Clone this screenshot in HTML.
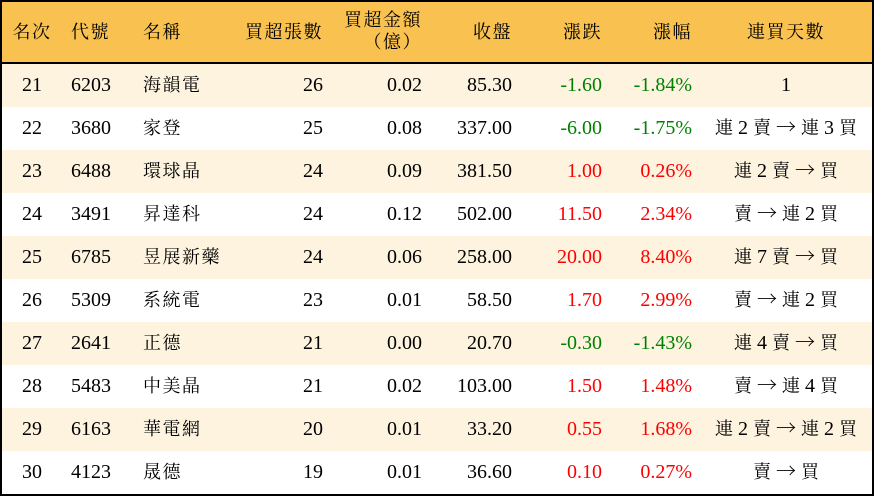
<!DOCTYPE html>
<html><head><meta charset="utf-8"><style>
html,body{margin:0;padding:0;background:#fff;}
#w{position:relative;width:874px;height:496px;overflow:hidden;background:#fff;font-family:"Liberation Serif","Noto Serif CJK SC",serif;font-size:20px;color:#000;}
.j{font-family:"Noto Serif CJK SC",serif;font-size:18px;letter-spacing:1.5px;line-height:1;}
.jn{font-family:"Noto Serif CJK SC",serif;font-size:18px;line-height:1;}
.ar{font-family:"Noto Serif CJK SC",serif;font-size:20px;line-height:1;}
.b{position:absolute;background:#000;}
.hd{position:absolute;left:0;top:0;width:874px;height:62px;background:#F8C150;}
.r{position:absolute;left:0;width:874px;height:43px;line-height:43px;}
.c{background:#FDF3DF;}
.r div,.h{position:absolute;top:0;white-space:nowrap;}
.h{line-height:22px;}
.k{left:6px;width:52px;text-align:center;}
.cd{left:71px;}
.nm{left:143px;}
.q{left:223px;width:100px;text-align:right;}
.a{left:322px;width:100px;text-align:right;}
.cl{left:412px;width:100px;text-align:right;}
.ch{left:502px;width:100px;text-align:right;}
.p{left:592px;width:100px;text-align:right;}
.d{left:706px;width:160px;text-align:center;}
.g{color:#008000;}
.rd{color:#FF0000;}
</style></head><body><div id="w">
<div class="hd"></div>
<div class="h k" style="top:21px"><span class="j">名次</span></div>
<div class="h cd" style="top:21px"><span class="j">代號</span></div>
<div class="h nm" style="top:21px"><span class="j">名稱</span></div>
<div class="h q" style="top:21px"><span class="j">買超張數</span></div>
<div class="h a" style="top:9px"><span class="j">買超金額</span><br><span class="j">（億）</span></div>
<div class="h cl" style="top:21px"><span class="j">收盤</span></div>
<div class="h ch" style="top:21px"><span class="j">漲跌</span></div>
<div class="h p" style="top:21px"><span class="j">漲幅</span></div>
<div class="h d" style="top:21px"><span class="j">連買天數</span></div>

<div class="r c" style="top:64px"><div class="k">21</div><div class="cd">6203</div><div class="nm"><span class="j">海韻電</span></div><div class="q">26</div><div class="a">0.02</div><div class="cl">85.30</div><div class="ch g">-1.60</div><div class="p g">-1.84%</div><div class="d">1</div></div>
<div class="r" style="top:107px"><div class="k">22</div><div class="cd">3680</div><div class="nm"><span class="j">家登</span></div><div class="q">25</div><div class="a">0.08</div><div class="cl">337.00</div><div class="ch g">-6.00</div><div class="p g">-1.75%</div><div class="d"><span class="jn">連</span> 2 <span class="jn">賣</span> <span class="ar">→</span> <span class="jn">連</span> 3 <span class="jn">買</span></div></div>
<div class="r c" style="top:150px"><div class="k">23</div><div class="cd">6488</div><div class="nm"><span class="j">環球晶</span></div><div class="q">24</div><div class="a">0.09</div><div class="cl">381.50</div><div class="ch rd">1.00</div><div class="p rd">0.26%</div><div class="d"><span class="jn">連</span> 2 <span class="jn">賣</span> <span class="ar">→</span> <span class="jn">買</span></div></div>
<div class="r" style="top:193px"><div class="k">24</div><div class="cd">3491</div><div class="nm"><span class="j">昇達科</span></div><div class="q">24</div><div class="a">0.12</div><div class="cl">502.00</div><div class="ch rd">11.50</div><div class="p rd">2.34%</div><div class="d"><span class="jn">賣</span> <span class="ar">→</span> <span class="jn">連</span> 2 <span class="jn">買</span></div></div>
<div class="r c" style="top:236px"><div class="k">25</div><div class="cd">6785</div><div class="nm"><span class="j">昱展新藥</span></div><div class="q">24</div><div class="a">0.06</div><div class="cl">258.00</div><div class="ch rd">20.00</div><div class="p rd">8.40%</div><div class="d"><span class="jn">連</span> 7 <span class="jn">賣</span> <span class="ar">→</span> <span class="jn">買</span></div></div>
<div class="r" style="top:279px"><div class="k">26</div><div class="cd">5309</div><div class="nm"><span class="j">系統電</span></div><div class="q">23</div><div class="a">0.01</div><div class="cl">58.50</div><div class="ch rd">1.70</div><div class="p rd">2.99%</div><div class="d"><span class="jn">賣</span> <span class="ar">→</span> <span class="jn">連</span> 2 <span class="jn">買</span></div></div>
<div class="r c" style="top:322px"><div class="k">27</div><div class="cd">2641</div><div class="nm"><span class="j">正德</span></div><div class="q">21</div><div class="a">0.00</div><div class="cl">20.70</div><div class="ch g">-0.30</div><div class="p g">-1.43%</div><div class="d"><span class="jn">連</span> 4 <span class="jn">賣</span> <span class="ar">→</span> <span class="jn">買</span></div></div>
<div class="r" style="top:365px"><div class="k">28</div><div class="cd">5483</div><div class="nm"><span class="j">中美晶</span></div><div class="q">21</div><div class="a">0.02</div><div class="cl">103.00</div><div class="ch rd">1.50</div><div class="p rd">1.48%</div><div class="d"><span class="jn">賣</span> <span class="ar">→</span> <span class="jn">連</span> 4 <span class="jn">買</span></div></div>
<div class="r c" style="top:408px"><div class="k">29</div><div class="cd">6163</div><div class="nm"><span class="j">華電網</span></div><div class="q">20</div><div class="a">0.01</div><div class="cl">33.20</div><div class="ch rd">0.55</div><div class="p rd">1.68%</div><div class="d"><span class="jn">連</span> 2 <span class="jn">賣</span> <span class="ar">→</span> <span class="jn">連</span> 2 <span class="jn">買</span></div></div>
<div class="r" style="top:451px"><div class="k">30</div><div class="cd">4123</div><div class="nm"><span class="j">晟德</span></div><div class="q">19</div><div class="a">0.01</div><div class="cl">36.60</div><div class="ch rd">0.10</div><div class="p rd">0.27%</div><div class="d"><span class="jn">賣</span> <span class="ar">→</span> <span class="jn">買</span></div></div>

<div class="b" style="left:0;top:62px;width:874px;height:2px"></div>
<div class="b" style="left:0;top:0;width:874px;height:2px"></div>
<div class="b" style="left:0;top:494px;width:874px;height:2px"></div>
<div class="b" style="left:0;top:0;width:2px;height:496px"></div>
<div class="b" style="left:872px;top:0;width:2px;height:496px"></div>
</div></body></html>
